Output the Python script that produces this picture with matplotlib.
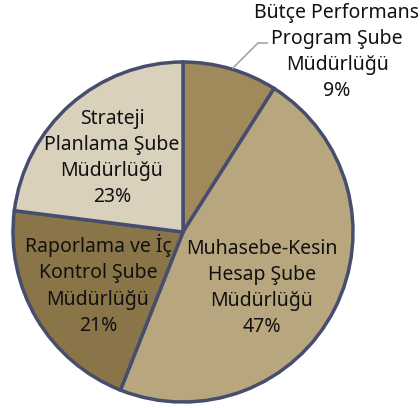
import matplotlib.pyplot as plt

# dilimler (saat yönünde, tepeden başlayarak)
birimler = ["Bütçe Performans\nProgram Şube\nMüdürlüğü",
            "Muhasebe-Kesin\nHesap Şube\nMüdürlüğü",
            "Raporlama ve İç\nKontrol Şube\nMüdürlüğü",
            "Strateji\nPlanlama Şube\nMüdürlüğü"]
yuzdeler = [9, 47, 21, 23]
renkler = ["#A08A5C", "#B8A67F", "#8A7549", "#DAD1BD"]

# etiket merkezleri (piksel)
etiket_px = [(337, 52), (262, 288), (98, 285), (112, 158)]

W, H = 420, 408
cx, cy, r = 183, 232, 170


def px2data(px, py):
    return (px - cx) / r, (cy - py) / r


fig = plt.figure(figsize=(W / 100, H / 100), dpi=100)
ax = fig.add_axes([0, 0, 1, 1])

ax.pie(yuzdeler, colors=renkler, startangle=90, counterclock=False,
       radius=1, center=(0, 0),
       wedgeprops=dict(edgecolor="#474D6D", linewidth=2.5))

for ad, yz, (px, py) in zip(birimler, yuzdeler, etiket_px):
    x, y = px2data(px, py)
    ax.text(x, y, f"{ad}\n{yz}%", ha="center", va="center",
            fontsize=14, family=["Noto Sans", "DejaVu Sans"],
            linespacing=1.42, color="#111111")

# Bütçe dilimi için kılavuz çizgi
lx = [px2data(233, 68)[0], px2data(258, 43)[0], px2data(267, 43)[0]]
ly = [px2data(233, 68)[1], px2data(258, 43)[1], px2data(267, 43)[1]]
ax.plot(lx, ly, color="#A6A6A6", linewidth=1.2)

ax.set_xlim(-cx / r, (W - cx) / r)
ax.set_ylim(-(H - cy) / r, cy / r)
ax.set_aspect("auto")
ax.axis("off")

fig.savefig("out.png", dpi=100)
